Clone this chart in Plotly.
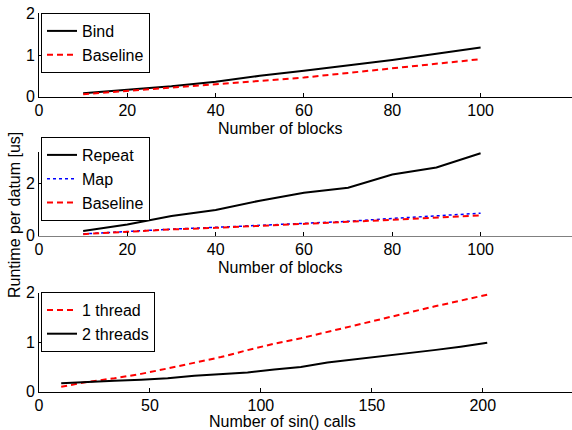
import plotly.graph_objects as go

# ---- data ----
blocks = [10, 20, 30, 40, 50, 60, 70, 80, 90, 100]
bind = [0.08, 0.16, 0.25, 0.36, 0.50, 0.62, 0.75, 0.88, 1.03, 1.18]
baseline1 = [0.06, 0.14, 0.22, 0.30, 0.37, 0.46, 0.57, 0.68, 0.79, 0.90]

repeat = [0.18, 0.43, 0.75, 0.98, 1.34, 1.64, 1.83, 2.34, 2.61, 3.15]
mapv = [0.07, 0.17, 0.25, 0.32, 0.39, 0.46, 0.55, 0.66, 0.76, 0.86]
baseline2 = [0.06, 0.15, 0.24, 0.30, 0.37, 0.45, 0.53, 0.61, 0.70, 0.78]

sin_calls = [10, 22, 34, 46, 58, 70, 82, 94, 106, 118, 130, 142, 154, 166, 178, 190, 202]
one_thread = [0.10, 0.20, 0.27, 0.36, 0.47, 0.58, 0.70, 0.84, 0.97, 1.08, 1.21, 1.34, 1.46, 1.59, 1.72, 1.84, 1.96]
two_threads = [0.17, 0.20, 0.22, 0.24, 0.27, 0.32, 0.36, 0.39, 0.45, 0.50, 0.59, 0.65, 0.71, 0.77, 0.84, 0.91, 0.99]

FONT = "Liberation Sans, Arial, sans-serif"
W, H = 572, 430
L = 39
PW = W - L

fig = go.Figure()

black = dict(color="black", width=2)
red = dict(color="red", width=2, dash="6px,4px")
blue = dict(color="blue", width=1.5, dash="dot")

fig.add_trace(go.Scatter(x=blocks, y=bind, name="Bind", mode="lines", line=black,
                         xaxis="x", yaxis="y", legend="legend"))
fig.add_trace(go.Scatter(x=blocks, y=baseline1, name="Baseline", mode="lines", line=red,
                         xaxis="x", yaxis="y", legend="legend"))

fig.add_trace(go.Scatter(x=blocks, y=repeat, name="Repeat", mode="lines", line=black,
                         xaxis="x2", yaxis="y2", legend="legend2"))
fig.add_trace(go.Scatter(x=blocks, y=mapv, name="Map", mode="lines", line=blue,
                         xaxis="x2", yaxis="y2", legend="legend2"))
fig.add_trace(go.Scatter(x=blocks, y=baseline2, name="Baseline", mode="lines", line=red,
                         xaxis="x2", yaxis="y2", legend="legend2"))

fig.add_trace(go.Scatter(x=sin_calls, y=one_thread, name="1 thread", mode="lines", line=red,
                         xaxis="x3", yaxis="y3", legend="legend3"))
fig.add_trace(go.Scatter(x=sin_calls, y=two_threads, name="2 threads", mode="lines", line=black,
                         xaxis="x3", yaxis="y3", legend="legend3"))


def py(px):
    return 1 - px / H


def px_x(px):
    return (px - L) / PW


def xax(rng, tickvals, anchor, linecolor="black"):
    return dict(range=rng, tickvals=tickvals, anchor=anchor, showgrid=False, zeroline=False,
                showline=True, linecolor=linecolor, linewidth=1, ticks="inside", ticklen=4,
                tickcolor="black", tickfont=dict(family=FONT, size=16, color="black"),
                domain=[0, 1], automargin=False, ticklabeloverflow="allow",
                ticklabelstandoff=-1)


def yax(rng, tickvals, top_px, bottom_px, anchor):
    return dict(range=rng, tickvals=tickvals, anchor=anchor, showgrid=False, zeroline=False,
                showline=True, linecolor="black", linewidth=1, ticks="inside", ticklen=4,
                tickcolor="black", tickfont=dict(family=FONT, size=16, color="black"),
                domain=[py(bottom_px), py(top_px)], automargin=False,
                ticklabeloverflow="allow")


def leg(x_px, y_px):
    return dict(x=px_x(x_px), y=py(y_px), xanchor="left", yanchor="top",
                bordercolor="black", borderwidth=1, bgcolor="white",
                font=dict(family=FONT, size=16, color="black"), itemwidth=30,
                tracegroupgap=0)


def ann(text, x_px, y_px, angle=0):
    return dict(text=text, x=px_x(x_px), y=py(y_px), xref="paper", yref="paper",
                xanchor="center", yanchor="middle", showarrow=False, textangle=angle,
                font=dict(family=FONT, size=16, color="black"))


fig.update_layout(
    width=W, height=H,
    margin=dict(l=L, r=0, t=0, b=0, autoexpand=False),
    paper_bgcolor="white", plot_bgcolor="white",
    showlegend=True,
    xaxis=xax([0, 120.7], [0, 20, 40, 60, 80, 100], "y"),
    yaxis=yax([0, 2], [0, 1, 2], 13.3, 96.7, "x"),
    xaxis2=xax([0, 120.7], [0, 20, 40, 60, 80, 100], "y2", linecolor="#808080"),
    yaxis2=yax([0, 3.2], [0, 2], 152, 235.7, "x2"),
    xaxis3=xax([0, 240.2], [0, 50, 100, 150, 200], "y3"),
    yaxis3=yax([0, 2], [0, 1, 2], 292.7, 391.7, "x3"),
    legend=leg(41, 13),
    legend2=leg(41, 137),
    legend3=leg(41, 292),
    annotations=[
        ann("Number of blocks", 280, 128),
        ann("Number of blocks", 280, 267),
        ann("Number of sin() calls", 282, 421.5),
        ann("Runtime per datum [us]", 14, 215, angle=-90),
    ],
)

fig.write_html("out.html", config={"displayModeBar": False},
               post_script="document.body.style.margin='0px';")
